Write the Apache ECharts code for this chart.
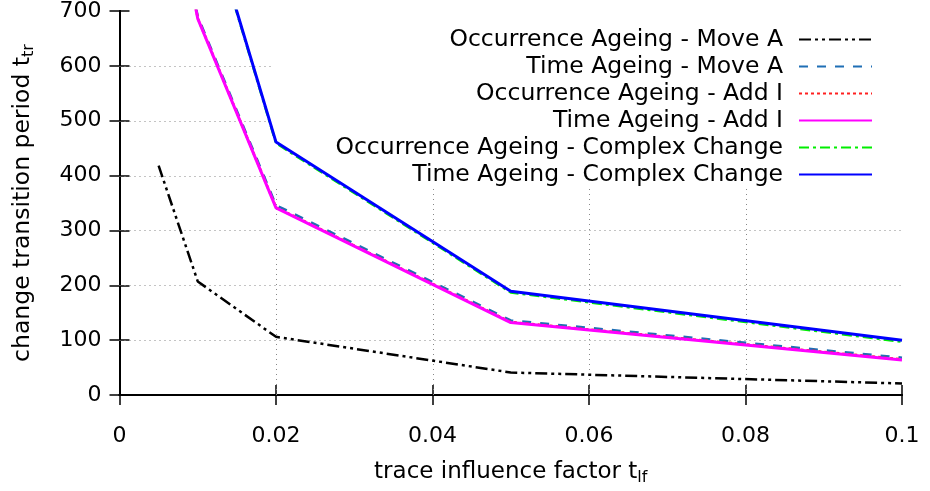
<!DOCTYPE html>
<html>
<head>
<meta charset="utf-8">
<script src="https://cdn.jsdelivr.net/npm/echarts@6/dist/echarts.min.js"></script>
<style>
  html, body { margin: 0; padding: 0; background: #fff; }
  #chart { width: 930px; height: 491px; }
</style>
</head>
<body>
<div id="chart"></div>
<script>
// trace influence factor values (x)
var tif = [0.005, 0.01, 0.02, 0.05, 0.1];

// change transition period values (y), one list per curve
var occMoveA   = [418, 207, 106, 41, 21];
var timeMoveA  = [1060, 690, 346, 136, 68];
var occAddI    = [1050, 687, 342, 133, 65];
var timeAddI   = [1050, 686, 341, 132, 64];
var occComplex = [1500, 935, 459, 187, 97];
var timeComplex= [1500, 937, 461, 189, 100];

var seriesNames = [
    'Occurrence Ageing - Move A',
    'Time Ageing - Move A',
    'Occurrence Ageing - Add I',
    'Time Ageing - Add I',
    'Occurrence Ageing - Complex Change',
    'Time Ageing - Complex Change'
];

var xTickLabels = ['0', '0.02', '0.04', '0.06', '0.08', '0.1'];
var yTickLabels = ['0', '100', '200', '300', '400', '500', '600', '700'];

// inner grid lines (dotted)
var gridX = [0.02, 0.04, 0.06, 0.08];
var gridY = [100, 200, 300, 400, 500, 600];

var FONT = 'DejaVu Sans';

// opaque key area in pixels: grid lines stop at it, curves do not
var KEY_BOX = { left: 272, top: 21, right: 886, bottom: 187 };

function pts(ys) {
    return tif.map(function (x, i) { return [x, ys[i]]; });
}

function mkSeries(name, ys, color, width, dash) {
    return {
        name: name,
        type: 'line',
        data: pts(ys),
        symbol: 'none',
        clip: true,
        z: 10,
        lineStyle: { color: color, width: width, type: dash },
        itemStyle: { color: color }
    };
}

var dotStyle = { stroke: '#888', lineWidth: 1, lineDash: [1, 4] };

function gridVertical(params, api) {
    var x = api.value(0);
    var p0 = api.coord([x, 0]);
    var p1 = api.coord([x, 700]);
    var px = Math.round(p0[0]) + 0.5;
    var yTop = p1[1];
    if (px > KEY_BOX.left && px < KEY_BOX.right) yTop = KEY_BOX.bottom;
    return {
        type: 'line',
        z2: 0,
        shape: { x1: px, y1: p0[1], x2: px, y2: yTop },
        style: dotStyle
    };
}

function gridHorizontal(params, api) {
    var y = api.value(1);
    var p0 = api.coord([0, y]);
    var p1 = api.coord([0.1, y]);
    var py = Math.round(p0[1]) + 0.5;
    var xEnd = p1[0];
    if (py > KEY_BOX.top && py < KEY_BOX.bottom) xEnd = KEY_BOX.left;
    return {
        type: 'line',
        z2: 0,
        shape: { x1: p0[0], y1: py, x2: xEnd, y2: py },
        style: dotStyle
    };
}

var dom = document.getElementById('chart');
var myChart = echarts.init(dom);

var tickStyle = { show: true, inside: true, length: 10, lineStyle: { color: '#000', width: 1.5 } };
var axisLineStyle = { show: true, lineStyle: { color: '#000', width: 2 } };

option = {
    backgroundColor: '#fff',
    animation: false,
    textStyle: { fontFamily: FONT },
    grid: {
        left: 119.5,
        right: 28,
        top: 9,
        bottom: 91
    },
    legend: {
        orient: 'vertical',
        align: 'right',
        right: 47,
        top: 21,
        padding: [5, 10, 0, 65],
        z: 8,
        itemWidth: 73,
        itemHeight: 14,
        itemGap: 0,
        itemStyle: { opacity: 0 },
        textStyle: { fontFamily: FONT, fontSize: 23.5, color: '#000', lineHeight: 27, padding: [0, 11, 0, 0] },
        data: seriesNames
    },
    xAxis: [
        {
            type: 'value',
            min: 0,
            max: 0.1,
            interval: 0.02,
            position: 'bottom',
            axisLine: axisLineStyle,
            axisTick: tickStyle,
            splitLine: { show: false },
            axisLabel: {
                fontFamily: FONT, fontSize: 22, color: '#000', margin: 30,
                formatter: function (v) { return xTickLabels[Math.round(v / 0.02)]; }
            },
            name: '{n|trace influence factor t}{s|lf}',
            nameLocation: 'middle',
            nameGap: 64,
            nameTextStyle: {
                rich: {
                    n: { fontFamily: FONT, fontSize: 23, color: '#000' },
                    s: { fontFamily: FONT, fontSize: 16, color: '#000', padding: [11, 0, 0, 0] }
                }
            }
        },
        {
            type: 'value',
            min: 0,
            max: 0.1,
            interval: 0.02,
            position: 'top',
            axisLine: axisLineStyle,
            axisTick: tickStyle,
            splitLine: { show: false },
            axisLabel: { show: false }
        }
    ],
    yAxis: [
        {
            type: 'value',
            min: 0,
            max: 700,
            interval: 100,
            position: 'left',
            axisLine: axisLineStyle,
            axisTick: tickStyle,
            splitLine: { show: false },
            axisLabel: {
                fontFamily: FONT, fontSize: 22, color: '#000', margin: 18,
                padding: [10, 0, 0, 0],
                formatter: function (v) { return yTickLabels[Math.round(v / 100)]; }
            },
            name: '{n|change transition period t}{s|tr}',
            nameLocation: 'middle',
            nameGap: 83,
            nameTextStyle: {
                rich: {
                    n: { fontFamily: FONT, fontSize: 23.5, color: '#000' },
                    s: { fontFamily: FONT, fontSize: 16, color: '#000', padding: [11, 0, 0, 0] }
                }
            }
        },
        {
            type: 'value',
            min: 0,
            max: 700,
            interval: 100,
            position: 'right',
            axisLine: axisLineStyle,
            axisTick: tickStyle,
            splitLine: { show: false },
            axisLabel: { show: false }
        }
    ],
    series: [
        {
            type: 'custom',
            silent: true,
            z: 1,
            xAxisIndex: 0,
            yAxisIndex: 0,
            renderItem: gridVertical,
            encode: { x: 0, y: 1 },
            data: gridX.map(function (v) { return [v, 0]; })
        },
        {
            type: 'custom',
            silent: true,
            z: 1,
            xAxisIndex: 0,
            yAxisIndex: 0,
            renderItem: gridHorizontal,
            encode: { x: 0, y: 1 },
            data: gridY.map(function (v) { return [0, v]; })
        },
        mkSeries(seriesNames[0], occMoveA, '#000000', 2.5, [12, 4, 3, 4, 3, 4]),
        mkSeries(seriesNames[1], timeMoveA, '#1f6fb5', 2.5, [9, 9]),
        mkSeries(seriesNames[2], occAddI, '#ff2020', 2.5, [3, 3]),
        mkSeries(seriesNames[3], timeAddI, '#ff00ff', 3, 'solid'),
        mkSeries(seriesNames[4], occComplex, '#00ee00', 2.5, [10, 4, 3, 4]),
        mkSeries(seriesNames[5], timeComplex, '#0000ff', 3, 'solid')
    ]
};

if (option && typeof option === 'object') {
    myChart.setOption(option, true);
}
</script>
</body>
</html>
